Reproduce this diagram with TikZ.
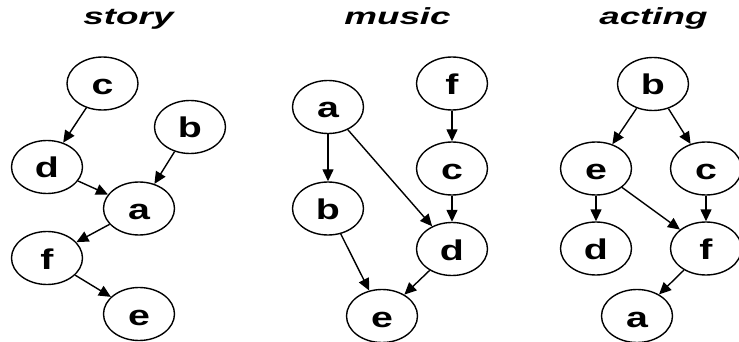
\documentclass[tikz,border=0pt]{standalone}
\usepackage{fontspec}
\usepackage{graphicx}
\setmainfont{Liberation Sans}
\usetikzlibrary{arrows.meta,shapes.geometric}
\newcommand{\nl}[1]{\scalebox{1.38}[1]{#1}}
\newcommand{\tl}[1]{\scalebox{1.58}[1]{#1}}
\begin{document}
\begin{tikzpicture}[x=1pt,y=-1pt,
  vx/.style={ellipse,draw,line width=1.4pt,minimum width=71pt,minimum height=53pt,inner sep=0pt,
    text height=22pt,text depth=0pt,font=\fontsize{28.5}{29}\selectfont\bfseries},
  ttl/.style={anchor=base,inner sep=0pt,font=\fontsize{23.3}{24}\selectfont\bfseries\itshape},
  ed/.style={line width=1.4pt,-{Triangle[length=12pt,width=11pt]}}]
\useasboundingbox (0,0) rectangle (739,342);
% story
\node[ttl] (t1) at (128.5,25) {\tl{story}};
\node[vx] (sc) at (102.5,83.5) {\nl{c}};
\node[vx] (sb) at (190,127) {\nl{b}};
\node[vx] (sd) at (47,167) {\nl{d}};
\node[vx] (sa) at (139,208.5) {\nl{a}};
\node[vx] (sf) at (47,258) {\nl{f}};
\node[vx] (se) at (139,314) {\nl{e}};
\draw[ed] (sc) -- (sd);
\draw[ed] (sd) -- (sa);
\draw[ed] (sb) -- (sa);
\draw[ed] (sa) -- (sf);
\draw[ed] (sf) -- (se);
% music
\node[ttl] (t2) at (397.5,25) {\tl{music}};
\node[vx] (ma) at (328,107) {\nl{a}};
\node[vx] (mf) at (452,83.5) {\nl{f}};
\node[vx] (mc) at (452,168.5) {\nl{c}};
\node[vx] (mb) at (328,208.5) {\nl{b}};
\node[vx] (md) at (452,249) {\nl{d}};
\node[vx] (me) at (382,316) {\nl{e}};
\draw[ed] (ma) -- (mb);
\draw[ed] (ma) -- (md);
\draw[ed] (mf) -- (mc);
\draw[ed] (mc) -- (md);
\draw[ed] (mb) -- (me);
\draw[ed] (md) -- (me);
% acting
\node[ttl] (t3) at (653.5,25) {\tl{acting}};
\node[vx] (ab) at (653,84) {\nl{b}};
\node[vx] (ae) at (596,168.5) {\nl{e}};
\node[vx] (ac) at (706,168.5) {\nl{c}};
\node[vx] (ad) at (596,248.5) {\nl{d}};
\node[vx] (af) at (706,248.5) {\nl{f}};
\node[vx] (aa) at (637,316) {\nl{a}};
\draw[ed] (ab) -- (ae);
\draw[ed] (ab) -- (ac);
\draw[ed] (ae) -- (ad);
\draw[ed] (ae) -- (af);
\draw[ed] (ac) -- (af);
\draw[ed] (af) -- (aa);
\end{tikzpicture}
\end{document}
